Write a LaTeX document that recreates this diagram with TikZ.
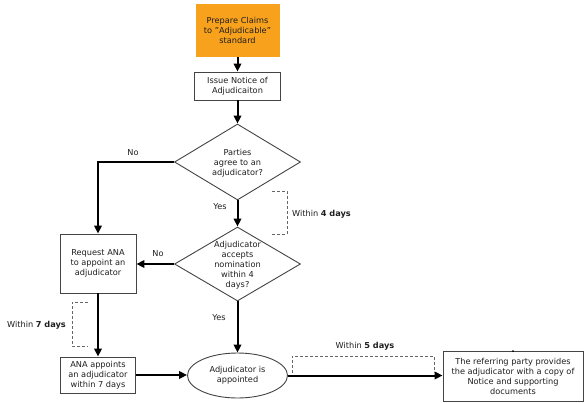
\documentclass[tikz,border=0pt]{standalone}
\usepackage{fontspec}
\setmainfont{DejaVu Sans}
\usetikzlibrary{shapes.geometric,arrows.meta}
\definecolor{prep}{HTML}{F8A11C}
\definecolor{ink}{HTML}{1E1E1E}
\definecolor{edge}{HTML}{444444}
\tikzset{
  fnt/.style={font=\fontsize{8.2}{10}\selectfont},
  box/.style={draw=edge,line width=0.9pt,fill=white,inner sep=0pt,align=center,fnt,text=ink},
  dia/.style={draw=edge,line width=0.9pt,shape=diamond,inner sep=0pt,minimum width=126pt,minimum height=76pt},
  ell/.style={draw=edge,line width=0.9pt,shape=ellipse,inner sep=0pt,minimum width=100pt,minimum height=45pt,align=center,fnt,text=ink},
  txt/.style={inner sep=0pt,align=center,fnt,text=ink},
  flow/.style={draw=black,line width=2pt,-{Triangle[length=8pt,width=7.5pt]}},
  brk/.style={draw=gray!80!black,line width=0.7pt,dash pattern=on 3pt off 2pt},
}
\begin{document}
\begin{tikzpicture}[x=1pt,y=-1pt]
\useasboundingbox[fill=white] (0,0) rectangle (584,402);
% nodes
\node[box,draw=none,fill=prep,minimum width=84pt,minimum height=53pt] (prep) at (237.5,30.5) {Prepare Claims\\to \symbol{34}Adjudicable\symbol{34}\\standard};
\node[box,minimum width=86pt,minimum height=28pt] (issue) at (237.5,86) {Issue Notice of\\Adjudicaiton};
\node[dia] (d1) at (237.5,162) {};
\node[txt] (d1t) at (237.5,163) {Parties\\agree to an\\adjudicator?};
\node[dia,minimum height=74pt] (d2) at (237.5,264) {};
\node[txt] (d2t) at (237.5,265) {Adjudicator\\accepts\\nomination\\within 4\\days?};
\node[box,minimum width=76pt,minimum height=59pt] (req) at (98,263.5) {Request ANA\\to appoint an\\adjudicator};
\node[box,minimum width=75pt,minimum height=36pt] (ana) at (98,375) {ANA appoints\\an adjudicator\\within 7 days};
\node[ell] (app) at (237.5,375.5) {Adjudicator is\\appointed};
\node[box,minimum width=140pt,minimum height=50pt] (ref) at (513,376.5) {The referring party provides\\the adjudicator with a copy of\\Notice and supporting\\documents};
\fill[black] (ref.north) circle (1pt);
% connectors
\draw[flow] (prep) -- (issue);
\draw[flow] (issue) -- (d1);
\coordinate (c1) at (req.north |- d1.west);
\draw[flow] (d1.west) -- (c1) -- (req.north);
\node[txt] (no1) at (133,153) {No};
\draw[flow] (d1) -- (d2);
\node[txt] (yes1) at (220,207) {Yes};
\draw[flow] (d2.west) -- (d2.west -| req.east);
\node[txt] (no2) at (158,254) {No};
\draw[flow] (d2) -- (app);
\node[txt] (yes2) at (219,318) {Yes};
\draw[flow] (req) -- (ana);
\draw[flow] (ana.east) -- (ana.east -| app.west);
\draw[flow] (app.east) -- (app.east -| ref.west);
% brackets
\coordinate (b1a) at (272,191); \coordinate (b1b) at (287,191);
\coordinate (b1c) at (287,234); \coordinate (b1d) at (272,234);
\draw[brk] (b1a) -- (b1b) -- (b1c) -- (b1d);
\node[txt,anchor=west] (w4) at (292,214) {Within \textbf{4 days}};
\coordinate (b2a) at (88,302); \coordinate (b2b) at (72,302);
\coordinate (b2c) at (72,346); \coordinate (b2d) at (88,346);
\draw[brk] (b2a) -- (b2b) -- (b2c) -- (b2d);
\node[txt,anchor=east] (w7) at (66,325) {Within \textbf{7 days}};
\coordinate (b3a) at (292,373); \coordinate (b3b) at (292,356);
\coordinate (b3c) at (434,356); \coordinate (b3d) at (434,373);
\draw[brk] (b3a) -- (b3b) -- (b3c) -- (b3d);
\node[txt] (w5) at (365,346) {Within \textbf{5 days}};
\end{tikzpicture}
\end{document}
